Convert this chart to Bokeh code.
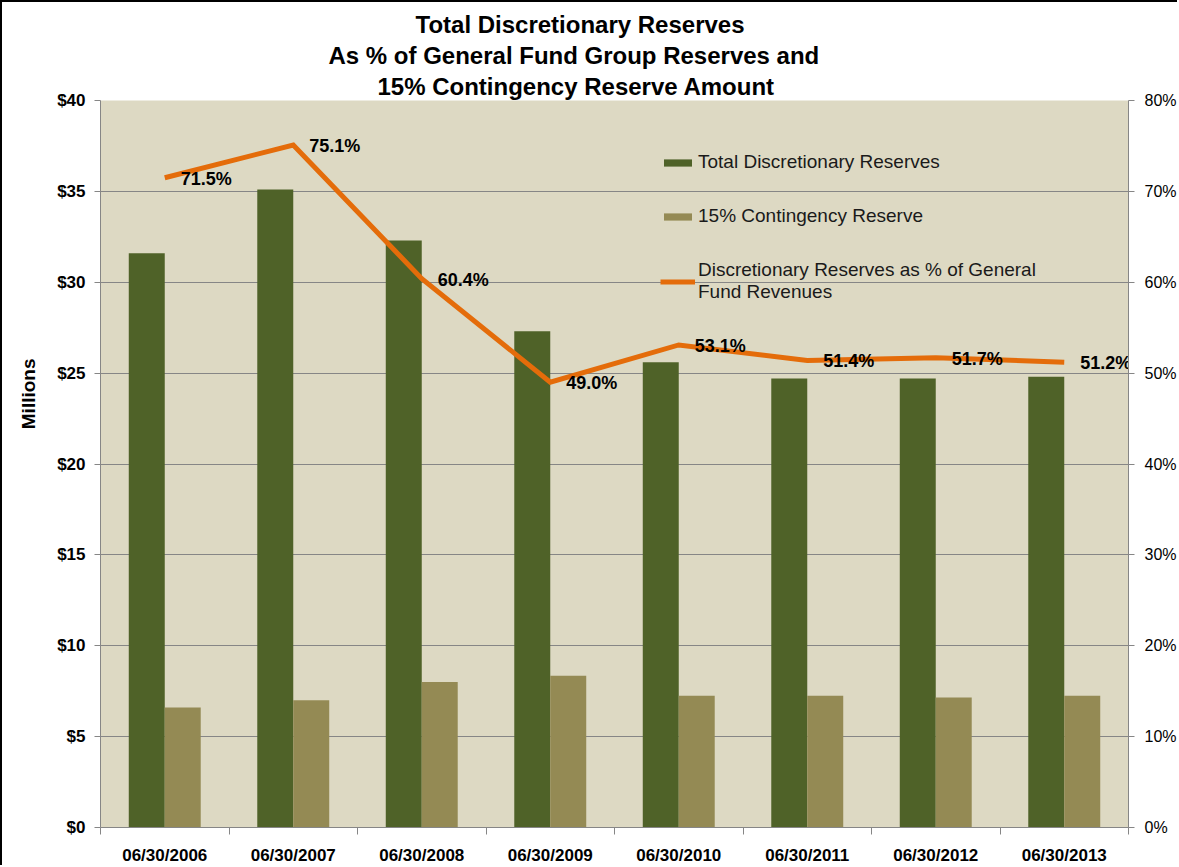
from bokeh.plotting import figure
from bokeh.models import (ColumnDataSource, Range1d, LinearAxis, FixedTicker, SingleIntervalTicker,
                          NumeralTickFormatter, PrintfTickFormatter, Legend, LegendItem, Title)
from bokeh.transform import dodge
from bokeh.core.properties import value
from bokeh.embed import file_html
from bokeh.resources import INLINE

# ---- data ----
categories = ["06/30/2006", "06/30/2007", "06/30/2008", "06/30/2009",
              "06/30/2010", "06/30/2011", "06/30/2012", "06/30/2013"]
total_reserves = [31.6, 35.1, 32.3, 27.3, 25.6, 24.7, 24.7, 24.8]        # $ millions
contingency_reserve = [6.6, 7.0, 8.0, 8.35, 7.25, 7.25, 7.15, 7.25]      # $ millions
pct_of_revenues = [71.5, 75.1, 60.4, 49.0, 53.1, 51.4, 51.7, 51.2]       # percent
title_lines = ["Total Discretionary Reserves",
               "As % of General Fund Group Reserves and",
               "15% Contingency Reserve Amount"]
y_caption = "Millions"

FONT = "Liberation Sans"
BG = "#DDD9C3"
DARK = "#4F6228"
TAN = "#948A54"
ORANGE = "#E46C0A"
GRID = "#868686"

n = len(categories)
centers = [i + 0.5 for i in range(n)]
source = ColumnDataSource(dict(
    x=centers,
    total=total_reserves,
    cont=contingency_reserve,
    pct=pct_of_revenues,
    pct_label=["%.1f%%" % v for v in pct_of_revenues],
))

p = figure(width=1177, height=865, output_backend="svg", toolbar_location=None,
           x_range=Range1d(0, n), y_range=Range1d(0, 40),
           min_border_left=98, min_border_right=49, min_border_top=98, min_border_bottom=40,
           background_fill_color=BG, border_fill_color="white", outline_line_color=None)
p.styles = {"border-left": "2px solid #000", "border-top": "2px solid #000"}
p.extra_y_ranges = {"pct": Range1d(0, 80)}

r_total = p.vbar(x=dodge("x", -0.14, range=p.x_range), top="total", width=0.28, source=source,
                 fill_color=DARK, line_color=None)
r_cont = p.vbar(x=dodge("x", 0.14, range=p.x_range), top="cont", width=0.28, source=source,
                fill_color=TAN, line_color=None)
r_line = p.line(x="x", y="pct", source=source, y_range_name="pct",
                line_color=ORANGE, line_width=5, line_join="miter")
p.text(x="x", y="pct", text="pct_label", source=source, y_range_name="pct",
       x_offset=16, y_offset=1, text_align="left", text_baseline="middle",
       text_font=value(FONT), text_font_style="bold", text_font_size="18px", text_color="#000000")

# ---- axes ----
xa = p.xaxis[0]
xa.ticker = FixedTicker(ticks=centers, minor_ticks=[float(i) for i in range(n + 1)])
xa.major_label_overrides = {c: lab for c, lab in zip(centers, categories)}
xa.major_tick_out = 0
xa.major_tick_in = 0
xa.minor_tick_out = 7
xa.minor_tick_in = 0
xa.minor_tick_line_color = GRID
xa.axis_line_color = GRID
xa.major_label_standoff = 11
xa.major_label_text_font = FONT
xa.major_label_text_font_style = "bold"
xa.major_label_text_font_size = "17px"
xa.major_label_text_color = "#000000"

ya = p.yaxis[0]
ya.ticker = SingleIntervalTicker(interval=5)
ya.formatter = NumeralTickFormatter(format="$0")
ya.major_tick_out = 6
ya.major_tick_in = 0
ya.minor_tick_out = 0
ya.minor_tick_in = 0
ya.major_tick_line_color = GRID
ya.axis_line_color = GRID
ya.major_label_standoff = 9
ya.major_label_text_font = FONT
ya.major_label_text_font_style = "bold"
ya.major_label_text_font_size = "17px"
ya.major_label_text_color = "#000000"

ra = LinearAxis(y_range_name="pct", ticker=SingleIntervalTicker(interval=10),
                formatter=PrintfTickFormatter(format="%d%%"))
ra.major_tick_out = 6
ra.major_tick_in = 0
ra.minor_tick_out = 0
ra.minor_tick_in = 0
ra.major_tick_line_color = GRID
ra.axis_line_color = GRID
ra.major_label_standoff = 10
ra.major_label_text_font = FONT
ra.major_label_text_font_size = "16px"
ra.major_label_text_color = "#000000"
p.add_layout(ra, "right")

p.xgrid.visible = False
p.ygrid.ticker = SingleIntervalTicker(interval=5)
p.ygrid.grid_line_color = GRID
p.ygrid.grid_line_width = 1

# ---- legend ----
legend = Legend(items=[
    LegendItem(label="Total Discretionary Reserves", renderers=[r_total]),
    LegendItem(label="15% Contingency Reserve", renderers=[r_cont]),
    LegendItem(label="Discretionary Reserves as % of General\nFund Revenues", renderers=[r_line]),
], location=(560, 524), orientation="vertical", padding=0, margin=0, spacing=32,
    glyph_width=35, glyph_height=9, label_standoff=3,
    label_text_font=FONT, label_text_font_size="19px", label_text_color="#1a1a1a",
    background_fill_alpha=0, border_line_color=None)
p.add_layout(legend, "center")

# ---- title (three lines, stacked upward from the plot frame) ----
title_offsets = [315, 228, 277]
for line, off in reversed(list(zip(title_lines, title_offsets))):
    p.add_layout(Title(text=line, align="left", offset=off, standoff=2,
                       text_font=FONT, text_font_style="bold", text_font_size="24px",
                       text_color="#000000"), "above")

# ---- left caption ----
p.add_layout(Title(text=y_caption, align="right", offset=258, standoff=27, vertical_align="top",
                   text_font=FONT, text_font_style="bold", text_font_size="19px",
                   text_color="#000000"), "left")

open("out.html", "w").write(file_html(p, INLINE))
